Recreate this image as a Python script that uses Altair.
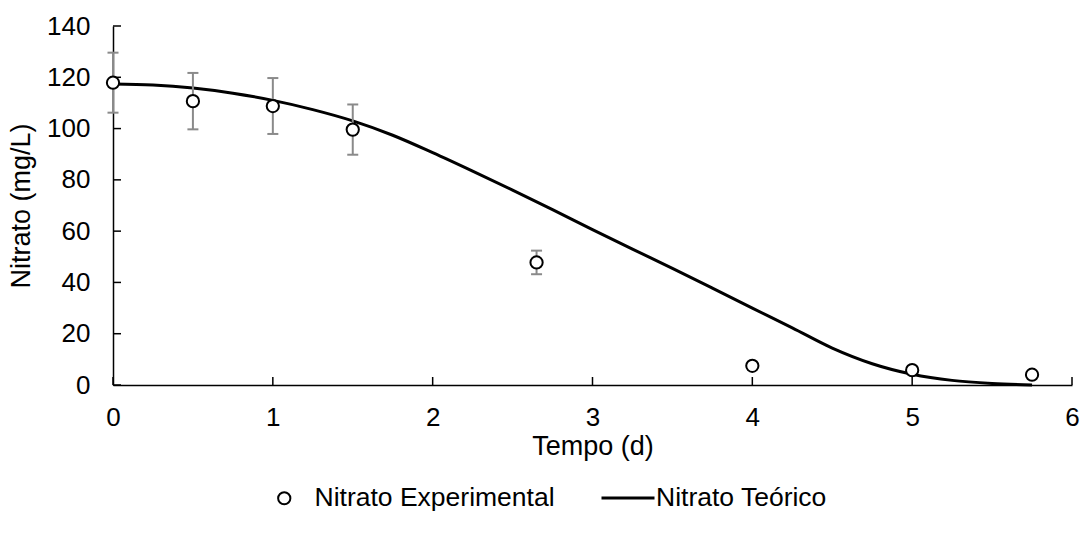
import altair as alt
import pandas as pd

# ---- data ----
tempo_exp = [0, 0.5, 1, 1.5, 2.65, 4, 5, 5.75]
nitrato_exp = [117.9, 110.7, 108.8, 99.6, 47.8, 7.5, 5.8, 4.0]
desvio_exp = [11.7, 11.0, 10.9, 9.8, 4.6, 0, 0, 0]

tempo_teo = [0, 0.25, 0.5, 0.75, 1.0, 1.25, 1.5, 1.75, 2.0, 2.25, 2.5, 2.75,
             3.0, 3.25, 3.5, 3.75, 4.0, 4.25, 4.5, 4.75, 5.0, 5.25, 5.5, 5.75]
nitrato_teo = [117.4, 117.0, 115.8, 113.8, 111.0, 107.4, 103.0, 97.4, 90.6, 83.4,
               76.0, 68.4, 60.6, 53.0, 45.5, 37.8, 30.0, 22.3, 14.4, 8.3,
               4.2, 1.8, 0.6, 0.0]

x_ticks = [0, 1, 2, 3, 4, 5, 6]
y_ticks = [0, 20, 40, 60, 80, 100, 120, 140]

FONT = "Liberation Sans"
GRAY = "#8a8a8a"
W, H = 959, 359
TICK_PX = 8

exp = pd.DataFrame({"tempo": tempo_exp, "nitrato": nitrato_exp, "desvio": desvio_exp})
exp["serie"] = "Nitrato Experimental"
exp["lo"] = exp["nitrato"] - exp["desvio"]
exp["hi"] = exp["nitrato"] + exp["desvio"]
err = exp[exp["desvio"] > 0]

teo = pd.DataFrame({"tempo": tempo_teo, "nitrato": nitrato_teo})
teo["serie"] = "Nitrato Teórico"

# inside tick marks (length expressed in data units of TICK_PX pixels)
xt = pd.DataFrame({"v": x_ticks})
xt["a"] = 0.0
xt["b"] = 140 * TICK_PX / H
yt = pd.DataFrame({"v": y_ticks})
yt["a"] = 0.0
yt["b"] = 6 * TICK_PX / W

xscale = alt.Scale(domain=[0, 6], nice=False, zero=False)
yscale = alt.Scale(domain=[0, 140], nice=False)

x_axis = alt.Axis(values=x_ticks, format="d", labelFlush=False, grid=False, tickSize=0,
                  domainColor="black", domainWidth=1.5, labelFont=FONT, labelFontSize=26,
                  labelColor="black", labelPadding=19, title="Tempo (d)", titleFont=FONT,
                  titleFontSize=27, titleFontWeight="normal", titleColor="black",
                  titlePadding=3)
y_axis = alt.Axis(values=y_ticks, format="d", labelFlush=False, grid=False, tickSize=0,
                  domainColor="black", domainWidth=1.5, labelFont=FONT, labelFontSize=26,
                  labelColor="black", labelPadding=23, title="Nitrato (mg/L)", titleFont=FONT,
                  titleFontSize=27, titleFontWeight="normal", titleColor="black",
                  titlePadding=11)

line = alt.Chart(teo).mark_line(strokeWidth=3, interpolate="monotone").encode(
    x=alt.X("tempo:Q", scale=xscale, axis=x_axis),
    y=alt.Y("nitrato:Q", scale=yscale, axis=y_axis),
    color=alt.Color("serie:N", scale=alt.Scale(domain=["Nitrato Teórico"], range=["black"]),
                    legend=alt.Legend(title=None, orient="none", legendX=487, legendY=444,
                                      symbolType="stroke", symbolSize=2809, symbolStrokeWidth=3,
                                      labelFont=FONT, labelFontSize=26.5, labelColor="black",
                                      labelOffset=0, labelLimit=0, padding=0)),
)

bars = alt.Chart(err).mark_rule(color=GRAY, strokeWidth=2).encode(
    x=alt.X("tempo:Q", scale=xscale), y=alt.Y("lo:Q", scale=yscale), y2="hi:Q"
)
cap_lo = alt.Chart(err).mark_tick(color=GRAY, orient="horizontal", size=11, thickness=2,
                                  opacity=1).encode(
    x=alt.X("tempo:Q", scale=xscale), y=alt.Y("lo:Q", scale=yscale)
)
cap_hi = alt.Chart(err).mark_tick(color=GRAY, orient="horizontal", size=11, thickness=2,
                                  opacity=1).encode(
    x=alt.X("tempo:Q", scale=xscale), y=alt.Y("hi:Q", scale=yscale)
)

xtick_marks = alt.Chart(xt).mark_rule(color="black", strokeWidth=1.5).encode(
    x=alt.X("v:Q", scale=xscale), y=alt.Y("a:Q", scale=yscale), y2="b:Q"
)
ytick_marks = alt.Chart(yt).mark_rule(color="black", strokeWidth=1.5).encode(
    y=alt.Y("v:Q", scale=yscale), x=alt.X("a:Q", scale=xscale), x2="b:Q"
)

points = alt.Chart(exp).mark_point(shape="circle", filled=False, fill="white",
                                   strokeWidth=2, size=150, opacity=1).encode(
    x=alt.X("tempo:Q", scale=xscale), y=alt.Y("nitrato:Q", scale=yscale),
    color=alt.Color("serie:N", scale=alt.Scale(domain=["Nitrato Experimental"], range=["black"]),
                    legend=alt.Legend(title=None, orient="none", legendX=158, legendY=459,
                                      symbolType="circle", symbolSize=150, symbolStrokeWidth=2,
                                      symbolOpacity=1,
                                      labelFont=FONT, labelFontSize=26.5, labelColor="black",
                                      labelOffset=17, labelLimit=0, padding=0)),
)

chart = alt.layer(line, bars, cap_lo, cap_hi, xtick_marks, ytick_marks, points).resolve_scale(
    color="independent"
).properties(
    width=W, height=H,
    autosize=alt.AutoSizeParams(type="none"),
    padding={"left": 113, "top": 26, "right": 9, "bottom": 152},
    background="white",
).configure_view(stroke=None)

chart.save("out.html", embed_options={"renderer": "svg", "actions": False})
